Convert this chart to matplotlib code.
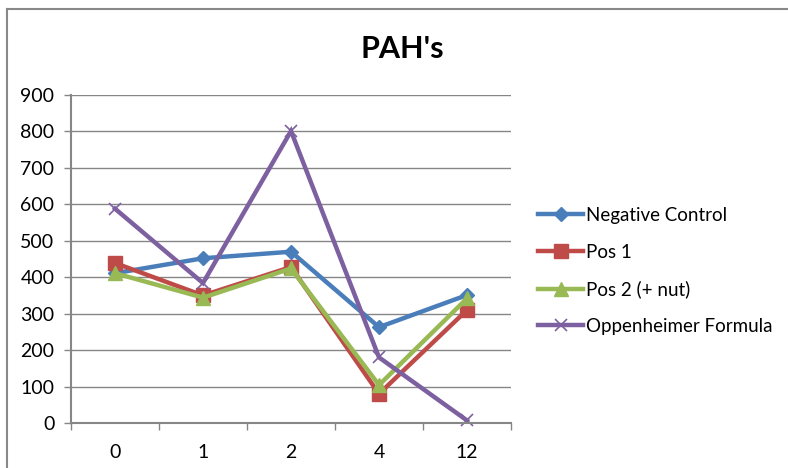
import matplotlib
matplotlib.use("Agg")
import matplotlib.pyplot as plt
from matplotlib.lines import Line2D

categories = ["0", "1", "2", "4", "12"]
series_names = ["Negative Control", "Pos 1", "Pos 2 (+ nut)", "Oppenheimer Formula"]
negative_control = [411, 452, 470, 263, 351]
pos_1 = [439, 350, 428, 80, 310]
pos_2 = [411, 344, 424, 104, 342]
oppenheimer = [588, 384, 801, 180, 7]
y_ticks = [0, 100, 200, 300, 400, 500, 600, 700, 800, 900]

colors = ["#4A7EBB", "#BE4B48", "#98B954", "#7D60A0"]
markers = ["D", "s", "^", "x"]
msizes = [7.5, 9.5, 10.5, 9]
mews = [1, 1, 1, 1.2]

plt.rcParams['font.family'] = ['Lato', 'DejaVu Sans']

fig = plt.figure(figsize=(7.88, 4.68), dpi=100)
ax = fig.add_axes([71/788, 1 - 423/468, 440/788, 328/468])

x = list(range(len(categories)))
for vals, name, c, m, ms, mew in zip([negative_control, pos_1, pos_2, oppenheimer],
                                     series_names, colors, markers, msizes, mews):
    ax.plot(x, vals, color=c, lw=3.2, marker=m, ms=ms, mew=mew,
            mec=c, mfc=c, label=name, solid_joinstyle='miter', clip_on=False)

ax.set_xlim(-0.5, len(categories) - 0.5)
ax.set_ylim(0, 900)
ax.set_yticks(y_ticks)
ax.set_yticklabels([str(v) for v in y_ticks])
ax.set_xticks(x)
ax.set_xticklabels(categories)
ax.set_xticks([i - 0.5 for i in range(len(categories) + 1)], minor=True)

grid_c = "#868686"
ax.yaxis.grid(True, color=grid_c, lw=1)
ax.set_axisbelow(True)
for s in ["top", "right"]:
    ax.spines[s].set_visible(False)
for s in ["left", "bottom"]:
    ax.spines[s].set_color(grid_c)
    ax.spines[s].set_linewidth(1.5)

ax.tick_params(axis='y', which='major', length=5, width=1, color=grid_c,
               labelsize=14, pad=7, labelcolor="black")
ax.tick_params(axis='x', which='major', length=0, labelsize=14, pad=15,
               labelcolor="black")
ax.tick_params(axis='x', which='minor', length=5, width=1, color=grid_c)

fig.text(402/788, 1 - 49/468, "PAH's", ha='center', va='center',
         fontsize=22, fontweight='bold')

leg = ax.legend(loc='center left', bbox_to_anchor=(538/788, 1 - 271/468),
                bbox_transform=fig.transFigure, frameon=False, fontsize=13.5,
                handlelength=2.4, handletextpad=0.15, labelspacing=1.05,
                borderpad=0, borderaxespad=0)

# outer chart border (top and left visible)
fig.add_artist(Line2D([7/788, 1], [1 - 8.5/468, 1 - 8.5/468],
                      transform=fig.transFigure, color="#888888", lw=1.5))
fig.add_artist(Line2D([7/788, 7/788], [0, 1 - 8.5/468],
                      transform=fig.transFigure, color="#888888", lw=1.5))

fig.savefig("out.png", dpi=100)
